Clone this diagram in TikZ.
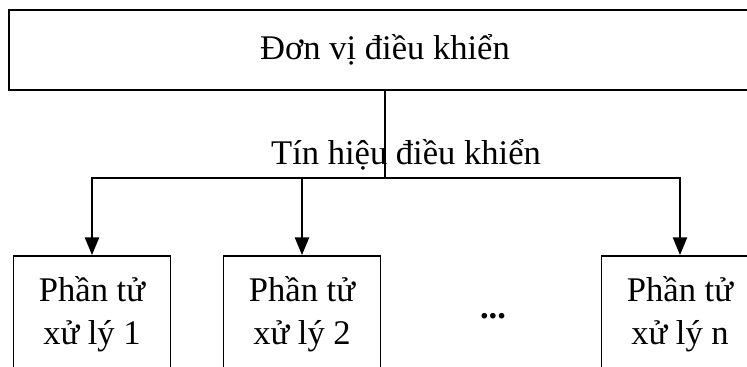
\documentclass[tikz,border=0pt]{standalone}
\usepackage{fontspec}
\setmainfont{Liberation Serif}
\usetikzlibrary{arrows.meta}

\begin{document}
\begin{tikzpicture}[x=0.03cm,y=-0.03cm,
  font=\fontsize{29.5}{37}\selectfont,
  line width=1.6pt,
  box/.style={draw,line width=1.6pt,inner sep=0pt,align=center},
  pebox/.style={box,minimum width=4.71cm,minimum height=3.48cm},
  arr/.style={-{Triangle[length=15pt,width=12pt]}}]
\useasboundingbox (0,0) rectangle (747,367);
\clip (0,0) rectangle (747,367);
% control unit on top
\node[box,minimum width=22.56cm,minimum height=2.4cm] (ctrl) at (385,50) {Đơn vị điều khiển};
% processing elements
\node[pebox] (pe1) at (92,314) {Phần tử\\xử lý 1};
\node[pebox] (pe2) at (302,314) {Phần tử\\xử lý 2};
\node[pebox] (pen) at (680,314) {Phần tử\\xử lý n};
\node (dots) at (493,316) {\textbf{...}};
% control signal bus
\coordinate (bus) at (385,178);
\node (sig) at (406,155) {Tín hiệu điều khiển};
\draw (ctrl.south) -- (bus);
\draw[arr] (bus) -| (pe1.north);
\draw[arr] (bus) -| (pen.north);
\draw[arr] (pe2.north |- bus) -- (pe2.north);
\end{tikzpicture}
\end{document}
